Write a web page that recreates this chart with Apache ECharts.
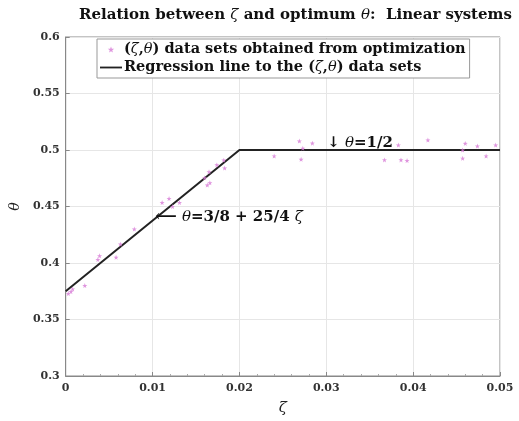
<!DOCTYPE html>
<html><head><meta charset="utf-8">
<script src="https://cdn.jsdelivr.net/npm/echarts@6/dist/echarts.min.js"></script>
<style>html,body{margin:0;padding:0;background:#fff}#c{width:519px;height:421px}</style>
</head><body><div id="c"></div>
<script>
const zeta = [0.0003,0.0006,0.0008,0.0022,0.0037,0.0039,0.0058,0.0063,0.0079,0.0111,0.0119,0.0123,0.0131,0.0160,0.0163,0.0165,0.0166,0.0174,0.0182,0.0183,0.0240,0.0269,0.0271,0.0273,0.0284,0.0367,0.0383,0.0386,0.0393,0.0417,0.0457,0.0460,0.0457,0.0474,0.0484,0.0495];
const theta = [0.373,0.3746,0.377,0.380,0.403,0.4064,0.405,0.4167,0.430,0.4535,0.457,0.450,0.4535,0.4754,0.469,0.4807,0.471,0.4868,0.491,0.484,0.4947,0.5079,0.4918,0.5015,0.506,0.4912,0.5044,0.4912,0.4906,0.5088,0.500,0.5058,0.4927,0.5035,0.4947,0.5044];
const regZeta = [0, 0.02, 0.05];
const regTheta = [0.375, 0.5, 0.5];
const xTicks = [0, 0.01, 0.02, 0.03, 0.04, 0.05];
const yTicks = [0.3, 0.35, 0.4, 0.45, 0.5, 0.55, 0.6];

const serif = '"DejaVu Serif","Liberation Serif",serif';
const star = 'path://M0,-5L1.2,-1.6L4.8,-1.5L1.9,0.6L2.9,4L0,2L-2.9,4L-1.9,0.6L-4.8,-1.5L-1.2,-1.6Z';
function txt(size, extra) {
  return Object.assign({fontFamily: serif, fontWeight: 'bold', fontSize: size, color: '#111',
    rich: {i: {fontFamily: serif, fontStyle: 'italic', fontWeight: 'normal', fontSize: size, color: '#111'}}}, extra || {});
}
const chart = echarts.init(document.getElementById('c'));
chart.setOption({
  animation: false,
  backgroundColor: '#fff',
  title: {
    text: 'Relation between {i|ζ} and optimum {i|θ}:  Linear systems',
    left: 74, top: 3,
    textStyle: txt(15)
  },
  grid: {left: 62, right: 19, top: 37, bottom: 42, show: true, borderColor: '#888', borderWidth: 1},
  legend: {
    orient: 'vertical', left: 97, top: 39, itemGap: 3, itemWidth: 22, itemHeight: 6,
    backgroundColor: '#fff', borderColor: '#999', borderWidth: 1, padding: [3, 4, 3, 3],
    data: [{name: 'pts', icon: star}, {name: 'reg', icon: 'path://M0,0H24V2H0Z'}],
    formatter: function (n) {
      return n === 'pts' ? '({i|ζ},{i|θ}) data sets obtained from optimization'
                         : 'Regression line to the ({i|ζ},{i|θ}) data sets';
    },
    textStyle: txt(14.5, {padding: [0, 0, 0, -3]})
  },
  xAxis: {
    type: 'value', min: 0, max: 0.05, interval: 0.01,
    name: 'ζ', nameLocation: 'middle', nameGap: 25,
    nameTextStyle: {fontFamily: serif, fontStyle: 'italic', fontSize: 15, color: '#222'},
    axisLine: {lineStyle: {color: '#888'}},
    axisTick: {inside: true, length: 4, lineStyle: {color: '#888'}},
    minorTick: {show: true, splitNumber: 5, length: 2, lineStyle: {color: '#aaa'}},
    axisLabel: {fontFamily: serif, fontWeight: 'bold', fontSize: 11, color: '#333', margin: 7,
      formatter: v => String(+v.toFixed(2))},
    splitLine: {lineStyle: {color: '#e6e6e6'}}
  },
  yAxis: {
    type: 'value', min: 0.3, max: 0.6, interval: 0.05,
    name: 'θ', nameLocation: 'middle', nameGap: 36,
    nameTextStyle: {fontFamily: serif, fontStyle: 'italic', fontSize: 14, color: '#222'},
    axisLine: {lineStyle: {color: '#888'}},
    axisTick: {inside: true, length: 4, lineStyle: {color: '#888'}},
    axisLabel: {fontFamily: serif, fontWeight: 'bold', fontSize: 11, color: '#333', margin: 6,
      formatter: v => String(+v.toFixed(2))},
    splitLine: {lineStyle: {color: '#e6e6e6'}}
  },
  series: [
    {
      name: 'pts', type: 'scatter', symbol: star, symbolSize: 5,
      itemStyle: {color: '#d77ad6'},
      data: zeta.map((z, i) => [z, theta[i]]), z: 3
    },
    {
      name: 'reg', type: 'line', symbol: 'none',
      lineStyle: {color: '#222', width: 2}, itemStyle: {color: '#222'},
      data: regZeta.map((z, i) => [z, regTheta[i]]), z: 2,
      markPoint: {
        symbol: 'circle', symbolSize: 0, silent: true,
        data: [
          {coord: [0.0103, 0.441], label: Object.assign({show: true, position: 'right', distance: 0,
            formatter: '⟵ {i|θ}=3/8 + 25/4 {i|ζ}'}, txt(15))},
          {coord: [0.0301, 0.5065], label: Object.assign({show: true, position: 'right', distance: 0,
            formatter: '↓ {i|θ}=1/2'}, txt(15))}
        ]
      }
    }
  ]
});
</script></body></html>
